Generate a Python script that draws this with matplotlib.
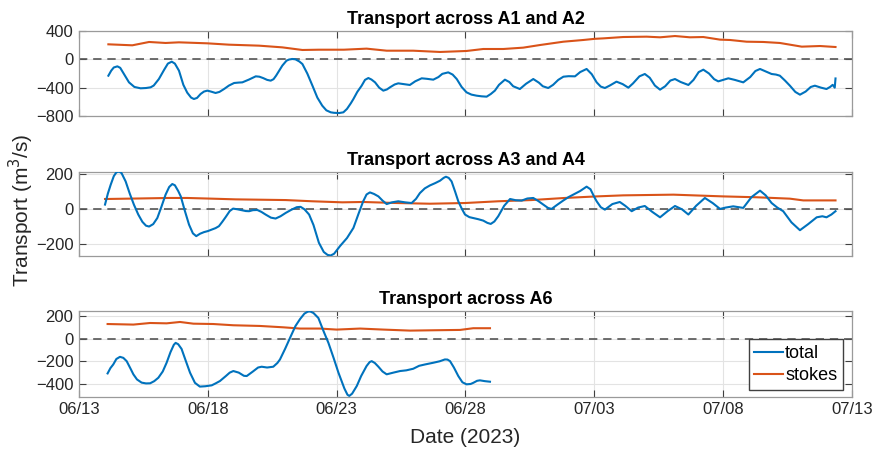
import datetime as dt
import matplotlib
matplotlib.use("Agg")
import matplotlib.pyplot as plt
import matplotlib.dates as mdates
import numpy as np

plt.rcParams['font.family'] = ['Liberation Sans', 'DejaVu Sans']

# Days since 2023-06-13 and transport values (m^3/s)
t1_total = [1.14, 1.25, 1.35, 1.49, 1.60, 1.75, 1.94, 2.15, 2.39, 2.60, 2.78, 2.90, 3.10, 3.30, 3.45, 3.60,
            3.72, 3.88, 4.05, 4.20, 4.35, 4.46, 4.58, 4.72, 4.85, 4.98, 5.12, 5.30, 5.45, 5.63, 5.82, 6.02,
            6.20, 6.34, 6.60, 6.86, 7.00, 7.15, 7.30, 7.44, 7.55, 7.65, 7.89, 8.05, 8.15, 8.28, 8.40, 8.55,
            8.67, 8.86, 9.06, 9.25, 9.44, 9.60, 9.77, 9.90, 10.10, 10.26, 10.40, 10.55, 10.65, 10.80, 10.97,
            11.10, 11.23, 11.35, 11.49, 11.65, 11.81, 11.95, 12.07, 12.25, 12.39, 12.60, 12.84, 13.05, 13.30,
            13.50, 13.75, 13.95, 14.10, 14.33, 14.50, 14.66, 14.85, 15.04, 15.23, 15.43, 15.62, 15.82, 15.98,
            16.14, 16.30, 16.53, 16.70, 16.85, 17.11, 17.35, 17.63, 17.85, 18.00, 18.21, 18.40, 18.60, 18.80,
            19.00, 19.25, 19.45, 19.70, 19.90, 20.09, 20.25, 20.41, 20.60, 20.86, 21.10, 21.32, 21.50, 21.75,
            21.96, 22.15, 22.35, 22.55, 22.75, 22.95, 23.13, 23.35, 23.65, 23.85, 24.05, 24.23, 24.45, 24.65,
            24.81, 25.00, 25.20, 25.45, 25.78, 26.05, 26.25, 26.43, 26.65, 26.88, 27.05, 27.20, 27.40, 27.59,
            27.80, 27.98, 28.20, 28.40, 28.56, 28.80, 29.01, 29.15, 29.25, 29.33, 29.36]
v1_total = [-231, -160, -115, -99, -120, -210, -325, -390, -409, -405, -395, -370, -278, -150, -60, -33,
            -60, -160, -360, -470, -540, -560, -545, -489, -455, -442, -455, -475, -460, -419, -370, -334,
            -328, -325, -285, -240, -245, -265, -290, -301, -280, -230, -89, -20, -3, 5, 0, -30,
            -66, -200, -372, -540, -654, -720, -748, -755, -758, -748, -700, -620, -560, -460, -372,
            -290, -264, -285, -325, -400, -442, -425, -395, -355, -339, -350, -362, -310, -268,
            -275, -287, -250, -205, -184, -215, -278, -390, -466, -498, -513, -522, -527, -490,
            -442, -360, -287, -320, -380, -419, -345, -278, -330, -380, -405, -360, -290, -245,
            -238, -240, -180, -136, -210, -325, -385, -405, -370, -315, -350, -400, -340, -240,
            -207, -260, -370, -428, -380, -300, -278, -320, -362, -290, -180, -146, -200, -280,
            -311, -290, -268, -290, -325, -250, -165, -136, -170, -207, -215, -231, -300, -372,
            -460, -499, -455, -390, -372, -400, -419, -390, -360, -400, -270]

t1_stokes = [1.14, 2.07, 2.72, 3.36, 3.88, 4.98, 5.82, 6.99, 7.89, 8.67, 9.31, 10.28, 11.16, 11.94, 12.97,
             14.01, 15.04, 15.69, 16.47, 17.24, 17.89, 18.80, 19.57, 20.03, 20.35, 21.12, 22.03, 22.55,
             23.13, 23.71, 24.23, 24.88, 25.27, 25.91, 26.56, 27.20, 28.05, 28.76, 29.36]
v1_stokes = [212, 198, 245, 231, 240, 226, 207, 193, 169, 132, 136, 136, 151, 122, 122,
             104, 118, 146, 146, 165, 202, 249, 273, 290, 296, 315, 320, 311,
             329, 311, 315, 278, 273, 249, 245, 231, 179, 188, 174]

t2_total = [1.01, 1.12, 1.23, 1.35, 1.45, 1.55, 1.65, 1.81, 1.97, 2.13, 2.30, 2.46, 2.60, 2.72, 2.88, 3.04,
            3.20, 3.36, 3.50, 3.62, 3.72, 3.85, 3.95, 4.10, 4.27, 4.42, 4.55, 4.70, 4.85, 5.00, 5.17, 5.30,
            5.43, 5.56, 5.69, 5.85, 5.98, 6.15, 6.34, 6.47, 6.60, 6.75, 6.92, 7.08, 7.24, 7.45, 7.63, 7.82,
            8.02, 8.25, 8.45, 8.60, 8.75, 8.93, 9.10, 9.31, 9.50, 9.65, 9.77, 9.90, 10.13, 10.40, 10.65,
            10.85, 11.03, 11.16, 11.29, 11.45, 11.62, 11.78, 11.94, 12.15, 12.39, 12.65, 12.91, 13.08, 13.23,
            13.42, 13.62, 13.82, 14.01, 14.15, 14.24, 14.35, 14.46, 14.60, 14.72, 14.85, 14.98, 15.15, 15.30,
            15.50, 15.69, 15.85, 15.98, 16.12, 16.27, 16.50, 16.73, 16.95, 17.18, 17.40, 17.63, 17.82, 18.02,
            18.20, 18.34, 18.55, 18.80, 19.00, 19.18, 19.45, 19.70, 19.85, 20.00, 20.09, 20.25, 20.41, 20.70,
            20.99, 21.20, 21.45, 21.70, 21.96, 22.25, 22.55, 22.85, 23.13, 23.40, 23.65, 23.95, 24.29, 24.60,
            24.88, 25.10, 25.39, 25.60, 25.78, 26.10, 26.43, 26.65, 26.88, 27.10, 27.33, 27.65, 27.98, 28.30,
            28.63, 28.85, 29.01, 29.20, 29.36]
v2_total = [27, 90, 141, 190, 212, 217, 208, 160, 90, 27, -30, -72, -94, -99, -85, -50,
            15, 84, 128, 145, 138, 105, 74, -5, -88, -138, -154, -140, -131, -125, -115, -108,
            -97, -72, -45, -10, 4, 0, -6, -10, -11, -5, -4, -15, -30, -48, -53, -40,
            -21, -2, 12, 14, 0, -30, -90, -192, -245, -262, -265, -255, -211, -165, -107,
            -25, 46, 85, 97, 88, 74, 50, 30, 40, 46, 40, 36, 60, 93,
            120, 137, 150, 164, 180, 187, 180, 160, 100, 46, 5, -30, -45, -50,
            -57, -65, -78, -84, -70, -40, 20, 59, 52, 50, 62, 65, 48, 27,
            8, 2, 25, 51, 70, 84, 105, 130, 115, 70, 46, 12, -2, 30,
            42, 20, -11, 10, 19, -15, -46, -10, 19, 0, -30, 20, 65, 35,
            2, 10, 17, 12, 8, 70, 107, 80, 36, 10, -11, -75, -120, -85,
            -46, -40, -46, -30, -11]

t2_stokes = [1.01, 2.30, 3.50, 4.20, 5.17, 6.08, 8.02, 9.05, 10.22, 11.03, 12.33, 13.62, 14.98,
             16.27, 17.56, 18.85, 20.09, 21.12, 23.07, 25.00, 26.30, 27.59, 28.11, 29.36]
v2_stokes = [59, 62, 65, 65, 61, 57, 53, 46, 40, 42, 36, 32, 36,
             46, 53, 65, 74, 80, 84, 74, 69, 61, 51, 51]

t3_total = [1.11, 1.22, 1.33, 1.45, 1.59, 1.72, 1.85, 2.00, 2.11, 2.25, 2.43, 2.60, 2.76, 2.92, 3.08, 3.25,
            3.40, 3.55, 3.68, 3.75, 3.85, 3.98, 4.15, 4.31, 4.50, 4.69, 4.90, 5.15, 5.30, 5.47, 5.70, 5.85,
            5.99, 6.20, 6.40, 6.51, 6.75, 6.95, 7.09, 7.30, 7.54, 7.70, 7.80, 8.00, 8.19, 8.40, 8.58, 8.75,
            8.88, 8.97, 9.10, 9.29, 9.50, 9.68, 9.88, 10.07, 10.30, 10.42, 10.49, 10.60, 10.78, 10.95, 11.16,
            11.28, 11.36, 11.48, 11.62, 11.78, 11.94, 12.20, 12.46, 12.70, 12.97, 13.20, 13.43, 13.75, 14.00,
            14.20, 14.30, 14.40, 14.55, 14.72, 14.88, 15.04, 15.20, 15.30, 15.45, 15.56, 15.75, 15.95]
v3_total = [-307, -260, -228, -180, -161, -170, -199, -265, -315, -360, -388, -395, -394, -375, -345, -290,
            -213, -120, -55, -38, -50, -91, -200, -301, -390, -423, -420, -412, -395, -374, -330, -300,
            -286, -300, -328, -330, -290, -255, -248, -255, -248, -215, -184, -90, 6, 110, 172, 220,
            237, 239, 225, 181, 60, -38, -170, -301, -440, -495, -505, -485, -418, -330, -242,
            -207, -199, -215, -248, -290, -315, -300, -286, -280, -266, -240, -228, -213, -200,
            -184, -185, -199, -255, -330, -385, -403, -400, -390, -372, -368, -375, -380]

t3_stokes = [1.11, 2.11, 2.76, 3.40, 3.92, 4.44, 5.21, 5.99, 7.02, 7.93, 8.58, 9.35, 10.00, 10.91,
             11.81, 12.85, 13.75, 14.79, 15.30, 15.95]
v3_stokes = [128, 123, 137, 134, 146, 131, 128, 117, 111, 99, 88, 88, 79, 88,
             79, 70, 73, 76, 91, 91]

titles = ["Transport across A1 and A2", "Transport across A3 and A4", "Transport across A6"]
ylims = [(-800, 400), (-268, 214), (-512, 240)]
yticks = [[-800, -400, 0, 400], [-200, 0, 200], [-400, -200, 0, 200]]
tick_dates = ["06/13", "06/18", "06/23", "06/28", "07/03", "07/08", "07/13"]

C_TOTAL = "#0072BD"
C_STOKES = "#D95319"

start = dt.datetime(2023, 6, 13)
x0 = mdates.date2num(start)


def to_dates(days):
    return x0 + np.asarray(days, dtype=float)


series = [
    (t1_total, v1_total, t1_stokes, v1_stokes),
    (t2_total, v2_total, t2_stokes, v2_stokes),
    (t3_total, v3_total, t3_stokes, v3_stokes),
]

fig = plt.figure(figsize=(8.76, 4.51), dpi=100)
left, width = 79 / 876, 773 / 876
rects = [(31, 116), (172, 256), (311.3, 396.7)]

tick_pos = [mdates.date2num(dt.datetime.strptime("2023/" + s, "%Y/%m/%d")) for s in tick_dates]

axes = []
for i, (top, bot) in enumerate(rects):
    ax = fig.add_axes([left, 1 - bot / 451, width, (bot - top) / 451])
    axes.append(ax)
    tt, vt, ts, vs = series[i]
    ax.axhline(0, color="#555555", lw=1.2, ls=(0, (5, 3.5)), zorder=1)
    ax.plot(to_dates(tt), vt, color=C_TOTAL, lw=1.5, label="total", zorder=3,
            solid_joinstyle="round")
    ax.plot(to_dates(ts), vs, color=C_STOKES, lw=1.5, label="stokes", zorder=2,
            solid_joinstyle="round")
    ax.set_xlim(tick_pos[0], tick_pos[-1])
    ax.set_ylim(*ylims[i])
    ax.set_yticks(yticks[i])
    ax.set_xticks(tick_pos)
    if i == 2:
        ax.set_xticklabels(tick_dates)
    else:
        ax.set_xticklabels([])
    ax.grid(True, color="#E3E3E3", lw=0.8)
    ax.set_axisbelow(True)
    for sp in ax.spines.values():
        sp.set_color("#9A9A9A")
        sp.set_linewidth(0.9)
    ax.tick_params(direction="in", length=5, width=0.8, color="#404040",
                   top=True, right=True, labelsize=12, labelcolor="#262626", pad=4)
    ax.set_title(titles[i], fontsize=13, fontweight="bold", pad=5)

axes[2].legend(loc="lower right", bbox_to_anchor=(0.988, 0.082), borderaxespad=0,
               fontsize=13, fancybox=False, edgecolor="#404040", framealpha=1,
               handlelength=1.6, handletextpad=0.1, labelspacing=0.3, borderpad=0.3)

fig.text(0.024, 0.534, "Transport (m$^3$/s)", rotation=90, ha="center", va="center",
         fontsize=15, color="#262626")
fig.text(0.531, 0.031, "Date (2023)", ha="center", va="center", fontsize=15, color="#262626")

fig.savefig("out.png", dpi=100)
